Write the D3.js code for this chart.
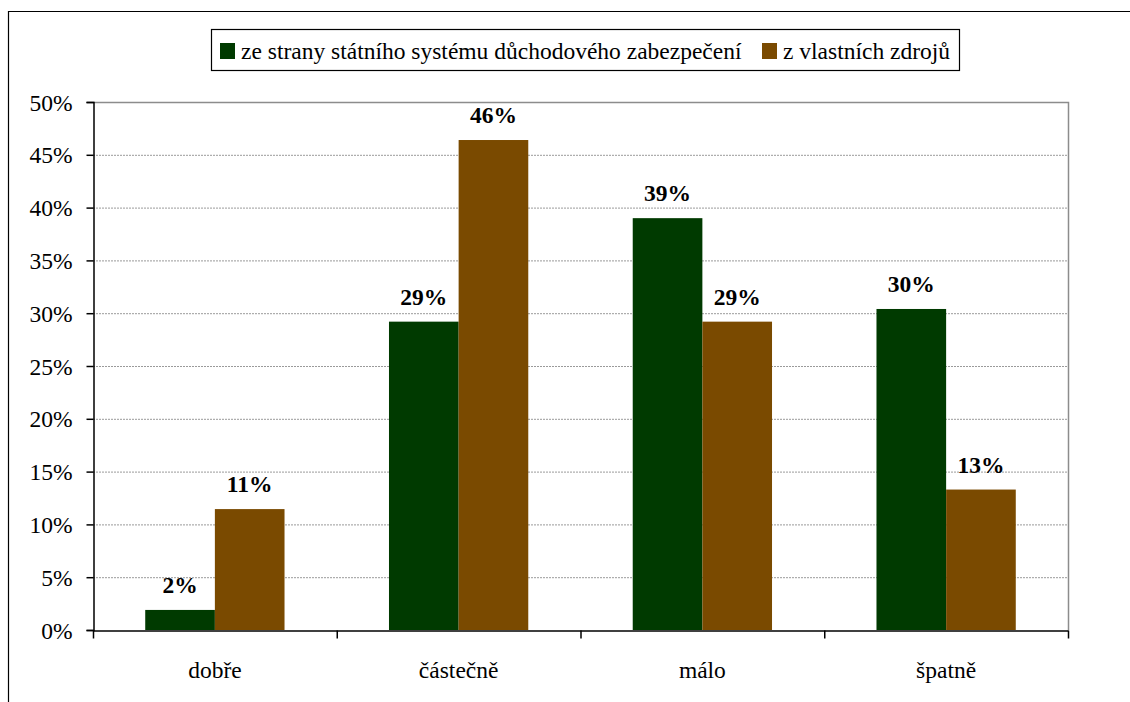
<!DOCTYPE html>
<html>
<head>
<meta charset="utf-8">
<script src="https://cdn.jsdelivr.net/npm/d3@7"></script>
<style>
  html, body { margin: 0; padding: 0; background: #fff; }
  svg { display: block; }
  svg text { font-family: "Liberation Serif", "Times New Roman", serif !important; }
</style>
</head>
<body>
<svg id="chart" width="1130" height="702"></svg>
<script>
// Categories along the x axis
const categories = ["dobře", "částečně", "málo", "špatně"];
// Series names shown in the legend
const seriesNames = ["ze strany státního systému důchodového zabezpečení", "z vlastních zdrojů"];
// Shares in percent for each series
const statePension = [1.9, 29.2, 39.0, 30.4];
const ownSources = [11.45, 46.4, 29.2, 13.3];
// Y axis tick values (percent)
const yTicks = [0, 5, 10, 15, 20, 25, 30, 35, 40, 45, 50];
const seriesColors = ["#003a00", "#7a4a00"];

const FS = 23.5;
// Serif text styling applied inline to every label
const textStyle = (bold) =>
  `font-family: 'Liberation Serif', 'Times New Roman', serif !important; font-size: ${FS}px;` +
  (bold ? " font-weight: bold;" : "");

const series = [statePension, ownSources];
const svg = d3.select("#chart");

const plot = { left: 93, right: 1068, top: 102, bottom: 630 };

const x0 = d3.scaleBand().domain(categories).range([plot.left, plot.right]).paddingInner(0).paddingOuter(0);
const bw = x0.bandwidth();
const barW = bw / 3.5;
const x1 = d3.scaleBand().domain(d3.range(series.length))
  .range([(bw - 2 * barW) / 2, (bw + 2 * barW) / 2]);
const y = d3.scaleLinear().domain([0, 50]).range([plot.bottom, plot.top]);

// Outer chart frame (left and top edges visible)
svg.append("path")
  .attr("d", `M8.5,702 L8.5,11.5 L1130,11.5`)
  .attr("fill", "none").attr("stroke", "#000").attr("stroke-width", 1.2);

// Gridlines
svg.append("g").selectAll("line")
  .data(yTicks.filter(t => t > 0 && t < 50))
  .join("line")
  .attr("x1", plot.left).attr("x2", plot.right)
  .attr("y1", d => y(d) + 0.5).attr("y2", d => y(d) + 0.5)
  .attr("stroke", "#9a9a9a").attr("stroke-width", 1).attr("stroke-dasharray", "2,1");

// Plot area border (top and right)
svg.append("path")
  .attr("d", `M${plot.left},${y(50) + 0.5} L${plot.right + 0.5},${y(50) + 0.5} L${plot.right + 0.5},${plot.bottom}`)
  .attr("fill", "none").attr("stroke", "#8c8c8c").attr("stroke-width", 1.5);

// Bars
const groups = svg.append("g").selectAll("g")
  .data(series)
  .join("g")
  .attr("fill", (d, i) => seriesColors[i]);

groups.selectAll("rect")
  .data((d, si) => d.map((v, ci) => ({ v, ci, si })))
  .join("rect")
  .attr("x", d => x0(categories[d.ci]) + x1(d.si))
  .attr("width", x1.bandwidth())
  .attr("y", d => y(d.v))
  .attr("height", d => y(0) - y(d.v));

// Value labels
const fmt = v => d3.format(".0f")(v) + "%";
svg.append("g").selectAll("text")
  .data(series.flatMap((d, si) => d.map((v, ci) => ({ v, ci, si }))))
  .join("text")
  .attr("x", d => x0(categories[d.ci]) + x1(d.si) + x1.bandwidth() / 2)
  .attr("y", d => y(d.v) - 17)
  .attr("text-anchor", "middle")
  .attr("fill", "#000")
  .attr("font-family", "Liberation Serif")
  .attr("font-weight", "bold")
  .attr("style", textStyle(true))
  .text(d => fmt(d.v));

// Y axis
const yAxis = d3.axisLeft(y).tickValues(yTicks).tickSize(7).tickPadding(14)
  .tickFormat(d => d + "%");
const gy = svg.append("g").attr("transform", `translate(${plot.left + 0.5},0)`).call(yAxis);
gy.attr("font-family", "Liberation Serif").attr("font-size", FS);
gy.select(".domain").attr("stroke", "#000").attr("stroke-width", 1.5);
gy.selectAll(".tick line").attr("stroke", "#000").attr("stroke-width", 1.5);
gy.selectAll(".tick text").attr("dy", "0.34em").attr("fill", "#000")
  .attr("style", textStyle(false));

// X axis
const xAxis = d3.axisBottom(x0).tickSize(0).tickPadding(0);
const gx = svg.append("g").attr("transform", `translate(0,${plot.bottom + 0.5})`).call(xAxis);
gx.attr("font-family", "Liberation Serif").attr("font-size", FS);
gx.select(".domain").attr("stroke", "#000").attr("stroke-width", 1.5);
gx.selectAll(".tick text").attr("y", 47).attr("dy", 0).attr("fill", "#000")
  .attr("style", textStyle(false));
// Category separator ticks
gx.append("g").selectAll("line")
  .data(categories.map(c => x0(c)).concat([plot.right]))
  .join("line")
  .attr("x1", d => d + 0.5).attr("x2", d => d + 0.5)
  .attr("y1", 0).attr("y2", 8)
  .attr("stroke", "#000").attr("stroke-width", 1.5);

// Legend
const legend = svg.append("g");
legend.append("rect")
  .attr("x", 211.5).attr("y", 29.5).attr("width", 748).attr("height", 41)
  .attr("fill", "#fff").attr("stroke", "#000").attr("stroke-width", 1.2);
const legendItems = [
  { name: seriesNames[0], color: seriesColors[0], x: 220 },
  { name: seriesNames[1], color: seriesColors[1], x: 762 }
];
const li = legend.selectAll("g.item").data(legendItems).join("g").attr("class", "item");
li.append("rect")
  .attr("x", d => d.x).attr("y", 43).attr("width", 15).attr("height", 16)
  .attr("fill", d => d.color);
li.append("text")
  .attr("x", d => d.x + 21).attr("y", 59)
  .attr("fill", "#000")
  .attr("font-family", "Liberation Serif")
  .attr("style", textStyle(false))
  .text(d => d.name);
</script>
</body>
</html>
